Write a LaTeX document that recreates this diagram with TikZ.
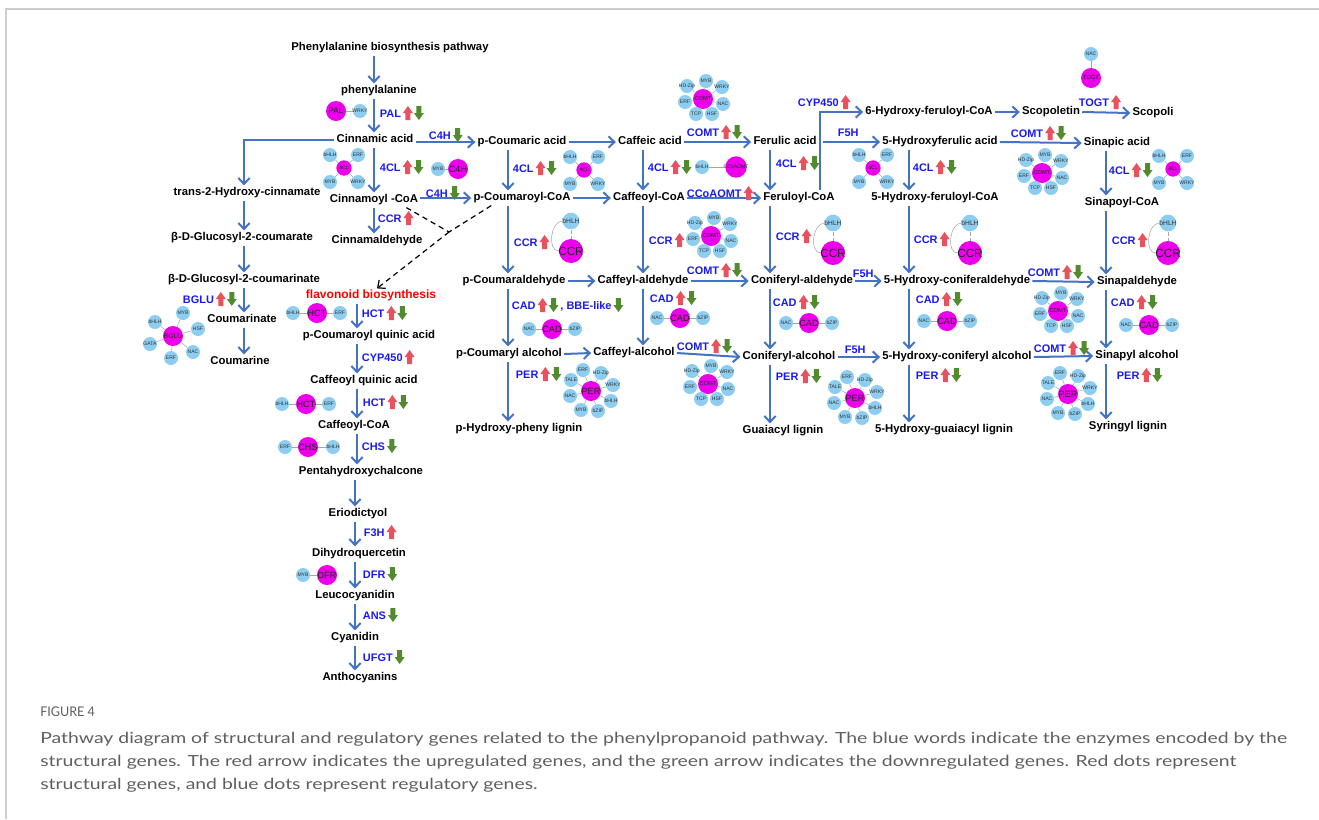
\documentclass[tikz,border=0pt]{standalone}
\usepackage{fontspec}
\setmainfont{Liberation Sans}
\newfontfamily\capfont{Lato}
\usetikzlibrary{arrows.meta,calc}

\definecolor{flowblue}{RGB}{68,114,196}
\definecolor{enzblue}{RGB}{25,25,240}
\definecolor{upred}{RGB}{232,82,94}
\definecolor{dngreen}{RGB}{82,138,46}
\definecolor{tfblue}{RGB}{140,205,240}
\definecolor{sgpink}{RGB}{236,0,236}
\definecolor{capgray}{RGB}{95,95,95}
\definecolor{framegray}{RGB}{205,205,205}

\tikzset{
  cpd/.style={font=\fontsize{8.5}{10}\selectfont\bfseries, inner sep=1.5pt, text height=6.2pt, text depth=1.8pt},
  enz/.style={font=\fontsize{8.2}{10}\selectfont\bfseries, text=enzblue, inner sep=0.5pt, text height=6pt, text depth=0pt, anchor=west},
  flow/.style={draw=flowblue, line width=1.5pt, -{Straight Barb[length=4.5pt,width=8.5pt]}},
  dashl/.style={draw=black, line width=0.9pt, dash pattern=on 4pt off 3pt},
  dasharr/.style={dashl, -{Straight Barb[length=4.5pt,width=8pt]}},
  tf/.style={circle, fill=tfblue, minimum size=10.5pt, inner sep=0pt, font=\fontsize{3.8}{4}\selectfont, text=black!80},
  sg/.style={circle, fill=sgpink, minimum size=15pt, inner sep=0pt, font=\fontsize{6.8}{7}\selectfont, text=black!85},
  sgs/.style={minimum size=11.5pt, font=\fontsize{3.8}{4}\selectfont},
  sgt/.style={font=\fontsize{4.3}{5}\selectfont},
  big/.style={minimum size=18pt, font=\fontsize{8.8}{9}\selectfont},
  tfm/.style={minimum size=12.5pt, font=\fontsize{5}{5}\selectfont},
  link/.style={draw=gray!70, line width=0.4pt},
  upa/.pic={\fill[upred] (3.5,7) -- (3.5,0) -- (1,0) -- (6,-7) -- (11,0) -- (8.5,0) -- (8.5,7) -- cycle;},
  dna/.pic={\fill[dngreen] (3.5,-7) -- (3.5,0) -- (1,0) -- (6,7) -- (11,0) -- (8.5,0) -- (8.5,-7) -- cycle;}
}

\newcommand{\zw}[1]{\makebox[0pt]{#1}}
\newcommand{\enzu}[3]{\node[enz] (#1) at (#2) {#3}; \pic at (#1.east) {upa};}
\newcommand{\enzd}[3]{\node[enz] (#1) at (#2) {#3}; \pic at (#1.east) {dna};}
\newcommand{\enzud}[3]{\node[enz] (#1) at (#2) {#3}; \pic at (#1.east) {upa}; \pic at ($(#1.east)+(11,0)$) {dna};}
\newcommand{\net}[5][]{%
  \node[sg,#1] (#2) at (#3) {\zw{#4}};
  \foreach \tfn/\dx/\dy [count=\k] in #5
    \node[tf] (#2-\k) at ($(#2)+(\dx,\dy)$) {\zw{\tfn}};
  \foreach \tfn/\dx/\dy [count=\k] in #5
    \draw[link] (#2) -- (#2-\k);
}
\newcommand{\ccrnet}[2]{%
  \node[sg,big] (#1) at (#2) {\zw{CCR}};
  \node[tf,tfm] (#1-1) at ($(#1)+(0,-30)$) {\zw{bHLH}};
  \draw[link,densely dashed] (#1-1) -- (#1);
  \draw[link] (#1-1.west) to[out=180,in=180] (#1.west);
}
\newcommand{\fclset}{bHLH/-14/-13,ERF/14/-13,MYB/-14/14,WRKY/14/14}
\newcommand{\comtset}{HD-Zip/-16/-13,MYB/3/-18,WRKY/19/-12,NAC/20/5,HSF/9/15,TCP/-7/15,ERF/-18/3}
\newcommand{\perset}{ERF/-8/-21,HD-Zip/10/-18,WRKY/22/-6,bHLH/20/10,bZIP/7/20,MYB/-10/19,NAC/-21/5,TALE/-20/-11}
\newcommand{\cadset}{NAC/-23/0,bZIP/23/0}
\newcommand{\hctset}{bHLH/-24/0,ERF/23/0}
\newcommand{\bgluset}{MYB/10/-23,bHLH/-18/-14,HSF/25/-7,GATA/-23/8,NAC/20/16,ERF/-2/22}

\begin{document}
\begin{tikzpicture}[x=0.75pt,y=-0.75pt]
\useasboundingbox (0,0) rectangle (1319,819);
\draw[framegray, line width=1pt] (6,819) -- (6,9) -- (1319,9);

\coordinate (colA) at (374,0);
\coordinate (colT) at (244,0);
\coordinate (colF) at (357,0);
\coordinate (colG) at (355,0);
\coordinate (colP) at (508,0);
\coordinate (colC) at (643,0);
\coordinate (colR) at (770,0);
\coordinate (colY) at (820,0);
\coordinate (colH) at (909,0);
\coordinate (colS) at (1106,0);

\node[cpd] (title) at (390,48) {Phenylalanine biosynthesis pathway};
\node[cpd] (phe) at (379,91) {phenylalanine};
\node[cpd] (cin) at (375,140) {Cinnamic acid};
\node[cpd] (trans) at (247,193) {trans-2-Hydroxy-cinnamate};
\node[cpd] (glua) at (242,238) {β-D-Glucosyl-2-coumarate};
\node[cpd] (glub) at (244,280) {β-D-Glucosyl-2-coumarinate};
\node[cpd] (cmt) at (242,320) {Coumarinate};
\node[cpd] (cme) at (240,362) {Coumarine};
\node[cpd] (cinco) at (374,200) {Cinnamoyl -CoA};
\node[cpd] (cinald) at (377,241) {Cinnamaldehyde};
\node[cpd, text=red, font=\fontsize{9}{10}\selectfont\bfseries] (flav) at (371,296) {flavonoid biosynthesis};
\node[cpd] (pcqa) at (369,336) {p-Coumaroyl quinic acid};
\node[cpd] (cqa) at (364,381) {Caffeoyl quinic acid};
\node[cpd] (cafcoaF) at (354,426) {Caffeoyl-CoA};
\node[cpd] (penta) at (361,472) {Pentahydroxychalcone};
\node[cpd] (erio) at (358,514) {Eriodictyol};
\node[cpd] (dihy) at (359,554) {Dihydroquercetin};
\node[cpd] (leuco) at (355,596) {Leucocyanidin};
\node[cpd] (cyan) at (355,638) {Cyanidin};
\node[cpd] (antho) at (360,678) {Anthocyanins};

\node[cpd] (pca) at (522,142) {p-Coumaric acid};
\node[cpd] (caf) at (650,142) {Caffeic acid};
\node[cpd] (fer) at (785,142) {Ferulic acid};
\node[cpd] (hfa) at (940,142) {5-Hydroxyferulic acid};
\node[cpd] (sina) at (1117,143) {Sinapic acid};
\node[cpd] (hfc6) at (929,112) {6-Hydroxy-feruloyl-CoA};
\node[cpd] (scop) at (1051,112) {Scopoletin};
\node[cpd] (scopi) at (1153,113) {Scopoli};
\node[cpd] (pcoa) at (522,198) {p-Coumaroyl-CoA};
\node[cpd] (cafcoa) at (649,198) {Caffeoyl-CoA};
\node[cpd] (fercoa) at (799,198) {Feruloyl-CoA};
\node[cpd] (hfcoa) at (935,198) {5-Hydroxy-feruloyl-CoA};
\node[cpd] (sincoa) at (1122,203) {Sinapoyl-CoA};
\node[cpd] (pcald) at (514,281) {p-Coumaraldehyde};
\node[cpd] (cafald) at (643,281) {Caffeyl-aldehyde};
\node[cpd] (conald) at (802,281) {Coniferyl-aldehyde};
\node[cpd] (hcald) at (957,281) {5-Hydroxy-coniferaldehyde};
\node[cpd] (sinald) at (1137,282) {Sinapaldehyde};
\node[cpd] (pcalc) at (509,354) {p-Coumaryl alcohol};
\node[cpd] (cafalc) at (634,353) {Caffeyl-alcohol};
\node[cpd] (conalc) at (789,357) {Coniferyl-alcohol};
\node[cpd] (hcalc) at (957,357) {5-Hydroxy-coniferyl alcohol};
\node[cpd] (sinalc) at (1137,356) {Sinapyl alcohol};
\node[cpd] (phlig) at (519,429) {p-Hydroxy-pheny lignin};
\node[cpd] (guai) at (783,431) {Guaiacyl lignin};
\node[cpd] (hglig) at (944,430) {5-Hydroxy-guaiacyl lignin};
\node[cpd] (syr) at (1128,427) {Syringyl lignin};

\draw[flow] (title.south -| colA) -- (phe.north -| colA);
\draw[flow] (phe.south -| colA) -- (cin.north -| colA);
\draw[flow] (cin.south -| colA) -- (cinco.north -| colA);
\draw[flow] (cinco.south -| colA) -- (cinald.north -| colA);
\draw[flow] (cin.west) -| (trans.north -| colT);
\draw[flow] (trans.south -| colT) -- (glua.north -| colT);
\draw[flow] (glua.south -| colT) -- (glub.north -| colT);
\draw[flow] (glub.south -| colT) -- (cmt.north -| colT);
\draw[flow] (cmt.south -| colT) -- (cme.north -| colT);
\draw[flow] (flav.south -| colF) -- (pcqa.north -| colF);
\draw[flow] (pcqa.south -| colF) -- (cqa.north -| colF);
\draw[flow] (cqa.south -| colF) -- (cafcoaF.north -| colF);
\draw[flow] (cafcoaF.south -| colF) -- (penta.north -| colF);
\draw[flow] (penta.south -| colG) -- (erio.north -| colG);
\draw[flow] (erio.south -| colG) -- (dihy.north -| colG);
\draw[flow] (dihy.south -| colG) -- (leuco.north -| colG);
\draw[flow] (leuco.south -| colG) -- (cyan.north -| colG);
\draw[flow] (cyan.south -| colG) -- (antho.north -| colG);

\draw[flow] (cin.east |- pca.west) -- (pca.west);
\draw[flow] (cinco.east |- pcoa.west) -- (pcoa.west);
\draw[flow] (pca.east) -- (caf.west);
\draw[flow] (caf.east) -- (fer.west);
\draw[flow] (pcoa.east) -- (cafcoa.west);
\draw[flow] (cafcoa.east) -- (fercoa.west);
\draw[flow] ($(fer.east)+(4,0)$) -- (hfa.west);
\draw[flow] (fercoa.north -| colY) |- (hfc6.west);
\draw[flow] (hfc6.east) -- (scop.west);
\draw[flow] (scop.east) -- (scopi.west);
\draw[flow] (hfa.east) -- (sina.west);
\draw[flow] (pcald.east) -- (cafald.west);
\draw[flow] (cafald.east) -- (conald.west);
\draw[flow] (conald.east) -- (hcald.west);
\draw[flow] (hcald.east) -- (sinald.west);
\draw[flow] (pcalc.east) -- (cafalc.west);
\draw[flow] (cafalc.east) -- (conalc.west);
\draw[flow] (conalc.east) -- (hcalc.west);
\draw[flow] (hcalc.east) -- (sinalc.west);

\draw[flow] (pca.south -| colP) -- (pcoa.north -| colP);
\draw[flow] (pcoa.south -| colP) -- (pcald.north -| colP);
\draw[flow] (pcald.south -| colP) -- (pcalc.north -| colP);
\draw[flow] (pcalc.south -| colP) -- (phlig.north -| colP);
\draw[flow] (caf.south -| colC) -- (cafcoa.north -| colC);
\draw[flow] (cafcoa.south -| colC) -- (cafald.north -| colC);
\draw[flow] (cafald.south -| colC) -- (cafalc.north -| colC);
\draw[flow] (fer.south -| colR) -- (fercoa.north -| colR);
\draw[flow] (fercoa.south -| colR) -- (conald.north -| colR);
\draw[flow] (conald.south -| colR) -- (conalc.north -| colR);
\draw[flow] (conalc.south -| colR) -- (guai.north -| colR);
\draw[flow] (hfa.south -| colH) -- (hfcoa.north -| colH);
\draw[flow] (hfcoa.south -| colH) -- (hcald.north -| colH);
\draw[flow] (hcald.south -| colH) -- (hcalc.north -| colH);
\draw[flow] (hcalc.south -| colH) -- (hglig.north -| colH);
\draw[flow] (sina.south -| colS) -- (sincoa.north -| colS);
\draw[flow] (sincoa.south -| colS) -- (sinald.north -| colS);
\draw[flow] (sinald.south -| colS) -- (sinalc.north -| colS);
\draw[flow] (sinalc.south -| colS) -- (syr.north -| colS);

\coordinate (mrg) at (449,232);
\draw[dashl] ($(cinco.south east)+(-14,0)$) -- (mrg);
\draw[dashl] ($(pcoa.south west)+(20,0)$) -- (mrg);
\draw[dasharr] (mrg) -- ($(flav.north)+(6,0)$);

\enzud{ePAL}{379,113}{PAL}
\enzd{eCHa}{428,135}{C4H}
\enzud{eFCa}{379,167}{4CL}
\enzd{eCHb}{425,193}{C4H}
\enzu{eCCa}{377,218}{CCR}
\enzud{eBGLU}{182,299}{BGLU}
\enzud{eHCa}{361,313}{HCT}
\enzu{eCYa}{361,357}{CYP450}
\enzud{eHCb}{362,402}{HCT}
\enzd{eCHS}{361,446}{CHS}
\enzu{eF3H}{363,532}{F3H}
\enzd{eDFR}{362,574}{DFR}
\enzd{eANS}{362,615}{ANS}
\enzd{eUFGT}{362,657}{UFGT}
\enzud{eFCb}{512,168}{4CL}
\enzud{eCOa}{686,132}{COMT}
\enzud{eFCc}{647,167}{4CL}
\enzu{eCCoA}{686,193}{CCoAOMT}
\enzu{eCCb}{513,242}{CCR}
\enzu{eCCc}{648,240}{CCR}
\enzud{eCDa}{511,305}{CAD}
\node[enz] (eBBE) at ($(eCDa.east)+(23,0)$) {, BBE-like};
\pic at (eBBE.east) {dna};
\enzud{eCDb}{649,298}{CAD}
\enzud{eCOb}{686,270}{COMT}
\enzud{eCOc}{676,346}{COMT}
\enzud{ePRa}{515,374}{PER}
\enzu{eCYb}{797,102}{CYP450}
\node[enz] (eF5a) at (837,132) {F5H};
\enzud{eFCd}{775,163}{4CL}
\enzud{eFCe}{912,167}{4CL}
\enzu{eCCd}{775,236}{CCR}
\enzu{eCCe}{913,239}{CCR}
\node[enz] (eF5b) at (852,273) {F5H};
\enzud{eCDc}{772,302}{CAD}
\enzud{eCDd}{915,299}{CAD}
\node[enz] (eF5c) at (844,349) {F5H};
\enzud{ePRb}{775,376}{PER}
\enzud{ePRc}{915,375}{PER}
\enzu{eTOGT}{1078,102}{TOGT}
\enzud{eCOd}{1010,133}{COMT}
\enzud{eFCf}{1108,170}{4CL}
\enzu{eCCf}{1111,240}{CCR}
\enzud{eCOe}{1027,272}{COMT}
\enzud{eCDe}{1110,302}{CAD}
\enzud{eCOf}{1033,348}{COMT}
\enzud{ePRd}{1116,375}{PER}

\net[font=\fontsize{6}{6}\selectfont]{gPAL}{336,111}{PAL}{{WRKY/24/0}}
\net[sgs]{gFCa}{344,168}{4CL}{\fclset}
\net{gC4H}{458,169}{C4H}{{MYB/-20/0}}
\net[font=\fontsize{5}{5}\selectfont]{gBGLU}{173,336}{BGLU}{\bgluset}
\net{gHCa}{317,313}{HCT}{\hctset}
\net{gHCb}{306,404}{HCT}{\hctset}
\net{gCHS}{308,447}{CHS}{{ERF/-23/0,bHLH/25/0}}
\net{gDFR}{327,575}{DFR}{{MYB/-24/0}}
\net[sgt]{gCOa}{703,99}{COMT}{\comtset}
\net[sgs]{gFCb}{584,170}{4CL}{\fclset}
\net[sgt,minimum size=16pt,font=\fontsize{3.8}{4}\selectfont]{gCCoA}{736,167}{CCoAOMT}{{bHLH/-34/0}}
\ccrnet{gCCa}{571,251}
\net[sgt]{gCOb}{711,236}{COMT}{\comtset}
\net{gCDa}{552,329}{CAD}{\cadset}
\net{gCDb}{680,318}{CAD}{\cadset}
\net[sgt]{gCOc}{708,384}{COMT}{\comtset}
\net{gPRa}{591,391}{PER}{\perset}
\net[sgs]{gFCc}{873,168}{4CL}{\fclset}
\ccrnet{gCCb}{833,253}
\ccrnet{gCCc}{970,253}
\net{gCDc}{809,323}{CAD}{\cadset}
\net{gCDd}{947,321}{CAD}{\cadset}
\net{gPRb}{855,398}{PER}{\perset}
\net[sgt]{gTOGT}{1091,78}{TOGT}{{NAC/0/-24}}
\net[sgt]{gCOd}{1042,173}{COMT}{\comtset}
\net[sgs]{gFCd}{1173,169}{4CL}{\fclset}
\ccrnet{gCCd}{1168,253}
\net[sgt]{gCOe}{1058,311}{COMT}{\comtset}
\net{gCDe}{1149,325}{CAD}{\cadset}
\net{gPRc}{1068,394}{PER}{\perset}

\node[anchor=west, inner sep=0pt, text=capgray, font=\capfont\fontsize{10}{11}\selectfont] (fig) at (40,712) {\resizebox{41pt}{\height}{FIGURE 4}};
\node[anchor=base west, inner sep=0pt, text=capgray, font=\capfont\fontsize{11.5}{13}\selectfont] (capa) at (40,743) {\resizebox{935pt}{\height}{Pathway diagram of structural and regulatory genes related to the phenylpropanoid pathway. The blue words indicate the enzymes encoded by the}};
\node[anchor=base west, inner sep=0pt, text=capgray, font=\capfont\fontsize{11.5}{13}\selectfont] (capb) at (40,766) {\resizebox{897pt}{\height}{structural genes. The red arrow indicates the upregulated genes, and the green arrow indicates the downregulated genes. Red dots represent}};
\node[anchor=base west, inner sep=0pt, text=capgray, font=\capfont\fontsize{11.5}{13}\selectfont] (capc) at (40,789) {\resizebox{373pt}{\height}{structural genes, and blue dots represent regulatory genes.}};
\end{tikzpicture}
\end{document}
